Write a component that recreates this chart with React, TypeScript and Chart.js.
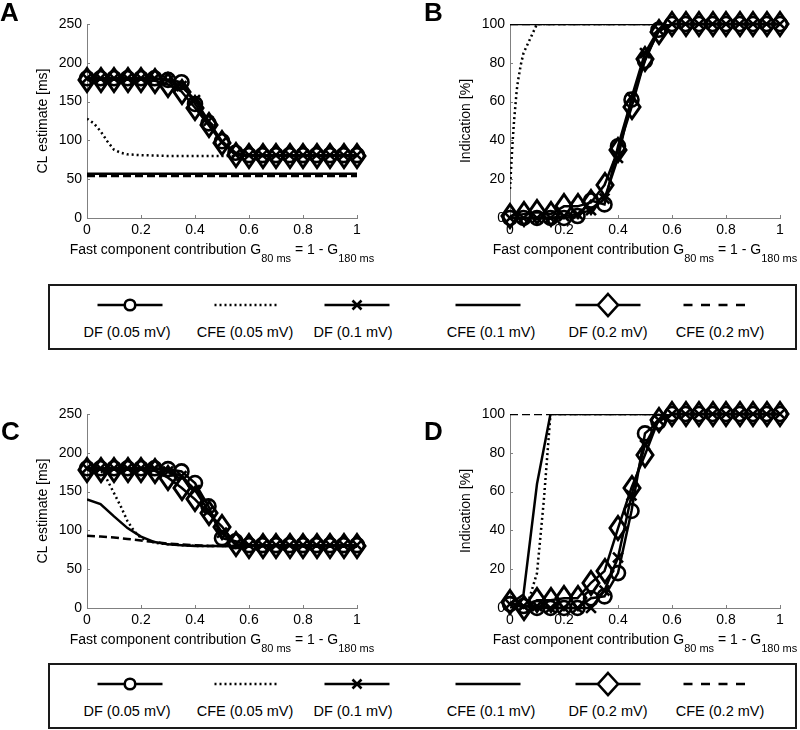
import React, { useEffect, useRef } from 'react';
import { Chart, registerables } from 'chart.js';

Chart.register(...registerables);

const FONT = "'Liberation Sans', Arial, Helvetica, sans-serif";
const AXIS_COLOR = '#808080';
const INK = '#000000';

// ---------- shared x grid for the DF series ----------
const X21 = [0, 0.05, 0.1, 0.15, 0.2, 0.25, 0.3, 0.35, 0.4, 0.45, 0.5, 0.55, 0.6, 0.65, 0.7, 0.75, 0.8, 0.85, 0.9, 0.95, 1];
const X_TICKS = [0, 0.2, 0.4, 0.6, 0.8, 1];

// ---------- Panel A: CL estimate ----------
const A_DF005 = [180, 180, 180, 180, 180, 180, 178, 175, 147, 122, 99, 84, 81, 81, 81, 81, 81, 81, 81, 81, 81];
const A_DF01 = [180, 180, 180, 180, 180, 180, 177, 170, 152, 125, 98, 82, 81, 81, 81, 81, 81, 81, 81, 81, 81];
const A_DF02 = [178, 178, 178, 178, 178, 177, 172, 163, 142, 120, 97, 81, 80, 80, 80, 80, 80, 80, 80, 80, 80];
const A_CFE005_X = [0, 0.025, 0.05, 0.075, 0.1, 0.125, 0.15, 0.2, 0.3, 0.4, 0.5, 0.6, 0.7, 0.8, 0.9, 1];
const A_CFE005 = [128, 122, 112, 99, 88, 84, 82, 81, 80, 80, 80, 80, 80, 80, 80, 80];
const A_CFE01 = [57, 57, 57, 57, 57, 57, 57, 57, 57, 57, 57, 57, 57, 57, 57, 57, 57, 57, 57, 57, 57];
const A_CFE02 = [54, 54, 54, 54, 54, 54, 54, 54, 54, 54, 54, 54, 54, 54, 54, 54, 54, 54, 54, 54, 54];

// ---------- Panel B: Indication ----------
const B_DF005 = [0, 0, 0, 0, 0, 1, 9, 7, 37, 61, 81, 97, 100, 100, 100, 100, 100, 100, 100, 100, 100];
const B_DF01 = [0, 0, 0, 0, 1, 2, 4, 10, 31, 62, 85, 97, 100, 100, 100, 100, 100, 100, 100, 100, 100];
const B_DF02 = [1, 2, 3, 2, 6, 6, 8, 17, 35, 57, 82, 96, 100, 100, 100, 100, 100, 100, 100, 100, 100];
const B_CFE005_X = [0, 0.005, 0.01, 0.015, 0.02, 0.025, 0.03, 0.04, 0.05, 0.06, 0.07, 0.08, 0.09, 0.1, 1];
const B_CFE005 = [15, 28, 40, 50, 58, 66, 71, 79, 85, 88, 91, 94, 97, 100, 100];
const B_CFE01 = [100, 100, 100, 100, 100, 100, 100, 100, 100, 100, 100, 100, 100, 100, 100, 100, 100, 100, 100, 100, 100];
const B_CFE02 = [100, 100, 100, 100, 100, 100, 100, 100, 100, 100, 100, 100, 100, 100, 100, 100, 100, 100, 100, 100, 100];

// ---------- Panel C: CL estimate ----------
const C_DF005 = [180, 180, 180, 180, 180, 180, 179, 176, 161, 131, 90, 86, 81, 81, 81, 81, 81, 81, 81, 81, 81];
const C_DF01 = [180, 180, 180, 180, 180, 180, 176, 170, 152, 125, 97, 82, 81, 81, 81, 81, 81, 81, 81, 81, 81];
const C_DF02 = [178, 178, 178, 178, 178, 177, 168, 155, 140, 122, 105, 82, 80, 80, 80, 80, 80, 80, 80, 80, 80];
const C_CFE005_X = [0, 0.05, 0.075, 0.1, 0.125, 0.15, 0.175, 0.2, 0.25, 0.3, 0.4, 0.5, 0.6, 0.7, 0.8, 0.9, 1];
const C_CFE005 = [180, 178, 165, 148, 131, 112, 99, 90, 84, 82, 80, 80, 80, 80, 80, 80, 80];
const C_CFE01_X = [0, 0.05, 0.1, 0.15, 0.2, 0.25, 0.3, 0.35, 0.4, 0.5, 0.6, 0.7, 0.8, 0.9, 1];
const C_CFE01 = [140, 134, 118, 103, 92, 85, 82, 81, 80, 80, 80, 80, 80, 80, 80];
const C_CFE02 = [93, 92, 91, 89, 87, 85, 83, 82, 81, 80, 80, 79, 79, 79, 79, 79, 79, 79, 79, 79, 79];

// ---------- Panel D: Indication ----------
const D_DF005 = [2, 1, 0, 0, 0, 0, 5, 6, 18, 50, 90, 96, 100, 100, 100, 100, 100, 100, 100, 100, 100];
const D_DF01 = [2, 1, 1, 0, 0, 0, 0, 9, 26, 58, 84, 97, 100, 100, 100, 100, 100, 100, 100, 100, 100];
const D_DF02 = [3, 0, 4, 4, 5, 5, 13, 19, 41, 62, 79, 97, 100, 100, 100, 100, 100, 100, 100, 100, 100];
const D_CFE005_X = [0, 0.05, 0.065, 0.1, 0.125, 0.15, 1];
const D_CFE005 = [0, 0, 2, 18, 55, 100, 100];
const D_CFE01_X = [0, 0.05, 0.1, 0.15, 1];
const D_CFE01 = [2, 7, 64, 100, 100];
const D_CFE02 = [100, 100, 100, 100, 100, 100, 100, 100, 100, 100, 100, 100, 100, 100, 100, 100, 100, 100, 100, 100, 100];

// ---------- labels ----------
const LEGEND_LABELS = ['DF (0.05 mV)', 'CFE (0.05 mV)', 'DF (0.1 mV)', 'CFE (0.1 mV)', 'DF (0.2 mV)', 'CFE (0.2 mV)'];
const Y_TITLE_CL = 'CL estimate [ms]';
const Y_TITLE_IND = 'Indication [%]';
const X_TITLE_PARTS = [
  { text: 'Fast component contribution G', sub: false },
  { text: '80 ms', sub: true },
  { text: ' = 1 - G', sub: false },
  { text: '180 ms', sub: true },
];

let diamondImg: HTMLCanvasElement | null = null;
function getDiamond(): HTMLCanvasElement {
  if (diamondImg) return diamondImg;
  const c = document.createElement('canvas');
  c.width = 22;
  c.height = 28;
  const g = c.getContext('2d')!;
  g.strokeStyle = INK;
  g.lineWidth = 3;
  g.lineJoin = 'miter';
  g.beginPath();
  g.moveTo(11, 2.5);
  g.lineTo(19, 14);
  g.lineTo(11, 25.5);
  g.lineTo(3, 14);
  g.closePath();
  g.stroke();
  diamondImg = c;
  return c;
}

function pts(xs: number[], ys: number[]) {
  return xs.map((x, i) => ({ x, y: ys[i] }));
}

function dfSet(label: string, ys: number[], style: any, radius: number) {
  return {
    label,
    data: pts(X21, ys),
    borderColor: INK,
    borderWidth: 2.5,
    pointStyle: style,
    pointRadius: radius,
    pointBorderColor: INK,
    pointBackgroundColor: 'rgba(0,0,0,0)',
    pointBorderWidth: 2.6,
    clip: false,
    tension: 0,
    fill: false,
  };
}

function cfeSet(label: string, xs: number[], ys: number[], dash: number[]) {
  return {
    label,
    data: pts(xs, ys),
    borderColor: INK,
    borderWidth: 2.5,
    borderDash: dash,
    pointRadius: 0,
    clip: 0,
    tension: 0,
    fill: false,
  };
}

const DOTTED = [2, 3];
const DASHED = [8, 4];

type Panel = {
  letter: string;
  left: number;
  top: number;
  ymax: number;
  ystep: number;
  ytitle: string;
  build: () => any[];
};

const PANELS: Panel[] = [
  {
    letter: 'A', left: 0, top: 0, ymax: 250, ystep: 50, ytitle: Y_TITLE_CL,
    build: () => [
      dfSet(LEGEND_LABELS[0], A_DF005, 'circle', 7),
      dfSet(LEGEND_LABELS[2], A_DF01, 'crossRot', 7),
      dfSet(LEGEND_LABELS[4], A_DF02, getDiamond(), 10),
      cfeSet(LEGEND_LABELS[1], A_CFE005_X, A_CFE005, DOTTED),
      cfeSet(LEGEND_LABELS[3], X21, A_CFE01, []),
      cfeSet(LEGEND_LABELS[5], X21, A_CFE02, DASHED),
    ],
  },
  {
    letter: 'B', left: 423, top: 0, ymax: 100, ystep: 20, ytitle: Y_TITLE_IND,
    build: () => [
      dfSet(LEGEND_LABELS[0], B_DF005, 'circle', 7),
      dfSet(LEGEND_LABELS[2], B_DF01, 'crossRot', 7),
      dfSet(LEGEND_LABELS[4], B_DF02, getDiamond(), 10),
      cfeSet(LEGEND_LABELS[1], B_CFE005_X, B_CFE005, DOTTED),
      cfeSet(LEGEND_LABELS[3], X21, B_CFE01, []),
      cfeSet(LEGEND_LABELS[5], X21, B_CFE02, DASHED),
    ],
  },
  {
    letter: 'C', left: 0, top: 390, ymax: 250, ystep: 50, ytitle: Y_TITLE_CL,
    build: () => [
      dfSet(LEGEND_LABELS[0], C_DF005, 'circle', 7),
      dfSet(LEGEND_LABELS[2], C_DF01, 'crossRot', 7),
      dfSet(LEGEND_LABELS[4], C_DF02, getDiamond(), 10),
      cfeSet(LEGEND_LABELS[1], C_CFE005_X, C_CFE005, DOTTED),
      cfeSet(LEGEND_LABELS[3], C_CFE01_X, C_CFE01, []),
      cfeSet(LEGEND_LABELS[5], X21, C_CFE02, DASHED),
    ],
  },
  {
    letter: 'D', left: 423, top: 390, ymax: 100, ystep: 20, ytitle: Y_TITLE_IND,
    build: () => [
      dfSet(LEGEND_LABELS[0], D_DF005, 'circle', 7),
      dfSet(LEGEND_LABELS[2], D_DF01, 'crossRot', 7),
      dfSet(LEGEND_LABELS[4], D_DF02, getDiamond(), 10),
      cfeSet(LEGEND_LABELS[1], D_CFE005_X, D_CFE005, DOTTED),
      cfeSet(LEGEND_LABELS[3], D_CFE01_X, D_CFE01, []),
      cfeSet(LEGEND_LABELS[5], X21, D_CFE02, DASHED),
    ],
  },
];

const axisDecor = {
  id: 'axisDecor',
  beforeDatasetsDraw(chart: any) {
    const { ctx, chartArea: ca, scales } = chart;
    ctx.imageSmoothingEnabled = false;
    ctx.save();
    ctx.strokeStyle = AXIS_COLOR;
    ctx.lineWidth = 1;
    for (const t of scales.x.ticks) {
      const px = Math.round(scales.x.getPixelForValue(t.value)) + 0.5;
      ctx.beginPath();
      ctx.moveTo(px, ca.bottom);
      ctx.lineTo(px, ca.bottom - 3);
      ctx.stroke();
    }
    for (const t of scales.y.ticks) {
      const py = Math.round(scales.y.getPixelForValue(t.value)) + 0.5;
      ctx.beginPath();
      ctx.moveTo(ca.left, py);
      ctx.lineTo(ca.left + 3, py);
      ctx.stroke();
    }
    ctx.restore();
  },
  afterDraw(chart: any) {
    const { ctx, chartArea: ca } = chart;
    ctx.save();
    ctx.fillStyle = INK;
    ctx.textBaseline = 'alphabetic';
    ctx.textAlign = 'left';
    const mainFont = `14px ${FONT}`;
    const subFont = `11px ${FONT}`;
    let total = 0;
    const widths = X_TITLE_PARTS.map((p) => {
      ctx.font = p.sub ? subFont : mainFont;
      const w = ctx.measureText(p.text).width;
      total += w;
      return w;
    });
    let x = (ca.left + ca.right) / 2 - total / 2;
    const base = ca.bottom + 36;
    X_TITLE_PARTS.forEach((p, i) => {
      ctx.font = p.sub ? subFont : mainFont;
      ctx.fillText(p.text, x, p.sub ? base + 8 : base);
      x += widths[i];
    });
    ctx.restore();
  },
};

function PanelChart({ panel }: { panel: Panel }) {
  const ref = useRef<HTMLCanvasElement | null>(null);
  useEffect(() => {
    if (!ref.current) return;
    const tickFont = { family: FONT, size: 14 };
    const chart = new Chart(ref.current, {
      type: 'line',
      data: { datasets: panel.build() },
      options: {
        animation: false,
        responsive: false,
        maintainAspectRatio: false,
        events: [],
        layout: { padding: { left: 35, right: 23, top: 24, bottom: 0 } },
        plugins: { legend: { display: false }, tooltip: { enabled: false }, title: { display: false } },
        scales: {
          x: {
            type: 'linear',
            min: 0,
            max: 1,
            afterBuildTicks: (scale: any) => {
              scale.ticks = X_TICKS.map((v) => ({ value: v }));
            },
            ticks: {
              font: tickFont,
              color: INK,
              padding: 4,
              maxRotation: 0,
              autoSkip: false,
              callback: (v: any) => String(Number(Number(v).toFixed(2))),
            },
            grid: { display: false, drawTicks: false },
            border: { display: true, color: AXIS_COLOR, width: 1 },
            afterFit: (scale: any) => {
              scale.height = 52;
            },
          },
          y: {
            type: 'linear',
            min: 0,
            max: panel.ymax,
            ticks: { stepSize: panel.ystep, font: tickFont, color: INK, padding: 5 },
            grid: { display: false, drawTicks: false },
            border: { display: true, color: AXIS_COLOR, width: 1 },
            title: {
              display: true,
              text: panel.ytitle,
              font: { family: FONT, size: 14 },
              color: INK,
              padding: { top: 0, bottom: 0 },
            },
            afterFit: (scale: any) => {
              scale.width = 52;
            },
          },
        },
      } as any,
      plugins: [axisDecor],
    } as any);
    return () => chart.destroy();
  }, [panel]);
  return (
    <canvas
      ref={ref}
      width={380}
      height={270}
      style={{ position: 'absolute', left: panel.left, top: panel.top, width: 380, height: 270 }}
    />
  );
}

const LEGEND_SAMPLE_CX = [82, 199, 309, 440, 560, 668];
const LEGEND_TEXT_CX = [79, 197, 305, 443, 560, 672];

function LegendBox({ top }: { top: number }) {
  const W = 749;
  const H = 66;
  const sy = 21;
  const half = 32.5;
  const samples = LEGEND_SAMPLE_CX.map((cx, i) => {
    const line = (dash?: string) => (
      <line x1={cx - half} y1={sy} x2={cx + half} y2={sy} stroke={INK} strokeWidth={2.6} strokeDasharray={dash} />
    );
    if (i === 0) {
      return (
        <g key={i}>
          {line()}
          <circle cx={cx} cy={sy} r={5.3} fill="#fff" stroke={INK} strokeWidth={2.6} />
        </g>
      );
    }
    if (i === 1) return <g key={i}>{line('2 3')}</g>;
    if (i === 2) {
      return (
        <g key={i}>
          {line()}
          <path d={`M${cx - 4.5},${sy - 4.5}L${cx + 4.5},${sy + 4.5}M${cx + 4.5},${sy - 4.5}L${cx - 4.5},${sy + 4.5}`} stroke={INK} strokeWidth={2.6} />
        </g>
      );
    }
    if (i === 3) return <g key={i}>{line()}</g>;
    if (i === 4) {
      return (
        <g key={i}>
          {line()}
          <path d={`M${cx},${sy - 11}L${cx + 10},${sy}L${cx},${sy + 11}L${cx - 10},${sy}Z`} fill="#fff" stroke={INK} strokeWidth={2.6} />
        </g>
      );
    }
    return <g key={i}>{line('9 8.5')}</g>;
  });
  return (
    <svg width={W} height={H} style={{ position: 'absolute', left: 48, top }}>
      <rect x={1} y={1} width={W - 2} height={H - 2} fill="#fff" stroke="#1a1a1a" strokeWidth={2} />
      {samples}
      {LEGEND_LABELS.map((t, i) => (
        <text key={t} x={LEGEND_TEXT_CX[i]} y={53} textAnchor="middle" fontFamily={FONT} fontSize={14.5} fill={INK}>
          {t}
        </text>
      ))}
    </svg>
  );
}

const LETTER_POS = [
  { letter: 'A', left: 0, top: -1 },
  { letter: 'B', left: 424, top: -1 },
  { letter: 'C', left: 1, top: 418 },
  { letter: 'D', left: 424, top: 418 },
];

export default function App() {
  return (
    <div
      style={{
        position: 'fixed',
        left: 0,
        top: 0,
        width: 800,
        height: 730,
        background: '#fff',
        overflow: 'hidden',
      }}
    >
      {PANELS.map((p) => (
        <PanelChart key={p.letter} panel={p} />
      ))}
      {LETTER_POS.map((l) => (
        <div
          key={l.letter}
          style={{
            position: 'absolute',
            left: l.left,
            top: l.top,
            fontFamily: FONT,
            fontWeight: 'bold',
            fontSize: 26,
            lineHeight: '26px',
            color: INK,
          }}
        >
          {l.letter}
        </div>
      ))}
      <LegendBox top={284} />
      <LegendBox top={663} />
    </div>
  );
}
